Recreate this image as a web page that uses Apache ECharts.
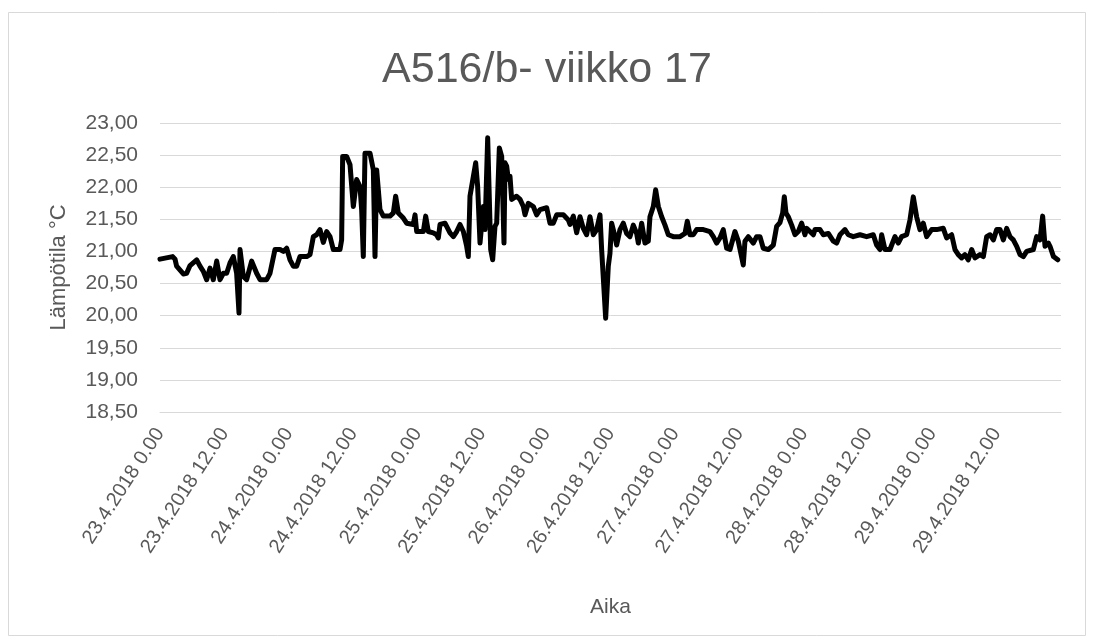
<!DOCTYPE html>
<html>
<head>
<meta charset="utf-8">
<title>A516/b- viikko 17</title>
<script src="https://cdn.jsdelivr.net/npm/echarts@6/dist/echarts.min.js"></script>
<style>
  html, body { margin: 0; padding: 0; background: #fff; }
  #chart { width: 1094px; height: 644px; }
</style>
</head>
<body>
<div id="chart"></div>
<script>
// x-akselin merkinnät, 12 tunnin välein alkaen 23.4.2018 0.00
const tickLabels = [
  "23.4.2018 0.00", "23.4.2018 12.00", "24.4.2018 0.00", "24.4.2018 12.00",
  "25.4.2018 0.00", "25.4.2018 12.00", "26.4.2018 0.00", "26.4.2018 12.00",
  "27.4.2018 0.00", "27.4.2018 12.00", "28.4.2018 0.00", "28.4.2018 12.00",
  "29.4.2018 0.00", "29.4.2018 12.00"
];

// mittausajat (tunteja 23.4.2018 0.00 jälkeen), luettu kuvasta
const hours = [
  0, 2.36, 2.8, 3.1, 4.35, 4.97, 5.6, 6.84, 7.46, 8.08, 8.7, 9.32, 9.94, 10.57,
  11.19, 11.81, 12.43, 13.05, 13.67, 14.29, 14.73, 14.92, 15.54, 16.16, 17.09,
  18.02, 18.65, 19.89, 20.51, 21.44, 22.37, 23.0, 23.62, 24.24, 24.86, 25.48,
  26.1, 27.35, 27.97, 28.59, 29.21, 29.83, 30.45, 31.08, 31.7, 32.32, 33.56,
  33.87, 34.06, 34.8, 35.43, 36.05, 36.67, 37.29, 37.6, 37.91, 38.22, 39.16,
  39.78, 40.09, 40.4, 41.02, 41.64, 42.88, 43.51, 43.94, 44.44, 45.37, 45.99,
  47.23, 47.55, 47.86, 49.1, 49.54, 50.03, 50.96, 51.58, 51.9, 52.21,
  53.14, 54.07, 54.7, 55.32, 55.94, 56.56, 57.18, 57.49, 57.8, 58.43, 58.86,
  59.23, 59.67, 60.29, 60.6, 61.1, 61.41, 61.66, 62.03, 62.46, 62.78, 63.27,
  63.71, 64.14, 64.33, 64.64, 64.95, 65.26, 65.57, 66.5, 67.13, 67.75, 68.06,
  68.68, 69.61, 70.23, 70.86, 72.1, 72.72, 73.34, 73.96, 75.21, 76.14, 76.45,
  77.07, 77.69,
  78.31, 78.93, 79.55, 80.17, 80.8, 81.42, 82.04, 82.35, 83.1, 83.59, 83.9,
  84.21, 84.84, 85.15, 85.77, 86.39, 87.01, 87.63, 88.25, 88.88, 89.19, 89.81,
  90.43, 91.05, 91.36, 91.98, 92.42, 92.92, 93.54, 94.16, 94.78, 95.71, 96.96,
  97.89, 98.32, 98.82, 99.44, 100.06, 101.31, 102.55, 103.17, 103.79, 104.41,
  105.03, 105.66, 106.28, 107.21, 107.83, 108.76, 109.07, 109.7, 110.63,
  111.25, 111.87, 112.49, 113.42, 114.36, 114.98, 115.6,
  116.1, 116.41, 116.72, 117.15, 117.78, 118.4, 119.02, 119.64, 120.26, 120.57,
  121.19, 121.82, 122.13, 123.06, 123.68, 124.61, 125.54, 126.17, 126.79,
  127.72, 128.34, 129.27, 130.52, 131.76, 133.0, 133.62, 134.25, 134.56,
  135.18, 136.11, 137.04, 137.66, 138.28, 139.22, 139.84, 140.46, 141.08,
  141.7, 142.32, 142.95, 143.88, 144.81, 146.05, 146.68, 147.61, 148.23,
  148.85, 149.47, 150.09, 150.71, 151.34, 151.96, 152.89,
  153.52, 154.14, 154.76, 155.39, 156.01, 156.63, 157.25, 157.87, 158.49,
  159.11, 159.74, 160.36, 160.98, 161.6, 162.84, 163.46, 164.09, 164.58,
  165.02, 165.64, 165.95, 166.6, 167.4
];

// lämpötilat (°C)
const temps = [
  20.88, 20.92, 20.88, 20.77, 20.65, 20.66, 20.78, 20.87, 20.77, 20.69, 20.56,
  20.74, 20.56, 20.85, 20.56, 20.66, 20.66, 20.82, 20.92, 20.66, 20.04, 21.03,
  20.61, 20.56, 20.85, 20.66, 20.56, 20.56, 20.66, 21.03, 21.03, 21.0, 21.05,
  20.87, 20.77, 20.77, 20.92, 20.92, 20.95, 21.23, 21.26, 21.34, 21.14, 21.31,
  21.23, 21.03, 21.03, 21.18, 22.48, 22.48, 22.35, 21.7, 22.12, 22.01, 21.65,
  20.92, 22.53, 22.53, 22.27, 20.92, 22.27, 21.65, 21.55, 21.55, 21.6, 21.86,
  21.6, 21.52, 21.44, 21.42, 21.57, 21.31, 21.31, 21.55, 21.31, 21.29, 21.26,
  21.21, 21.42,
  21.44, 21.29, 21.23, 21.31, 21.42, 21.31, 21.08, 20.92, 21.86, 22.17, 22.38,
  22.01, 21.13, 21.7, 21.34, 22.77, 22.77, 21.03, 20.87, 21.39, 21.44, 22.61,
  22.48, 21.13, 22.38, 22.33, 22.12, 22.17, 21.81, 21.86, 21.81, 21.7, 21.57,
  21.75, 21.7, 21.57, 21.65, 21.68, 21.44, 21.44, 21.57, 21.57, 21.49, 21.42,
  21.55, 21.29,
  21.54, 21.36, 21.26, 21.54, 21.26, 21.34, 21.57, 21.03, 19.96, 20.77, 20.97,
  21.44, 21.23, 21.1, 21.34, 21.44, 21.28, 21.23, 21.41, 21.28, 21.13, 21.44,
  21.13, 21.16, 21.54, 21.7, 21.96, 21.7, 21.54, 21.41, 21.26, 21.23, 21.23,
  21.28, 21.47, 21.26, 21.26, 21.34, 21.34, 21.31, 21.23, 21.13, 21.21,
  21.34, 21.05, 21.03, 21.31, 21.16, 20.79, 21.16, 21.23, 21.13,
  21.23, 21.23, 21.05, 21.03, 21.1, 21.39, 21.45,
  21.6, 21.85, 21.6, 21.54, 21.41, 21.26, 21.31, 21.44, 21.26, 21.36,
  21.31, 21.26, 21.34, 21.34, 21.26, 21.28, 21.16, 21.13, 21.26,
  21.34, 21.26, 21.23, 21.26, 21.23, 21.26, 21.1, 21.03, 21.26,
  21.03, 21.03, 21.23, 21.13, 21.23, 21.26, 21.49, 21.85, 21.54,
  21.34, 21.44, 21.23, 21.34, 21.34, 21.36, 21.21, 21.26, 21.03,
  20.95, 20.9, 20.95, 20.87, 21.03, 20.9, 20.95,
  20.92, 21.23, 21.26, 21.18, 21.34, 21.34, 21.18, 21.36, 21.23,
  21.18, 21.08, 20.95, 20.92, 21.0, 21.03, 21.23, 21.18, 21.55,
  21.08, 21.13, 21.08, 20.92, 20.87
];

// y-akselin rajat
const yMin = 18.5;
const yMax = 23;
const yStep = 0.5;

const textColor = "#595959";
const gridColor = "#d9d9d9";
const fontFamily = "'Liberation Sans', Arial, sans-serif";

const chart = echarts.init(document.getElementById("chart"));

chart.setOption({
  animation: false,
  backgroundColor: "#ffffff",
  textStyle: { fontFamily: fontFamily },
  // kaavion reunus
  graphic: [
    {
      type: "rect",
      shape: { x: 8.5, y: 12.5, width: 1077, height: 623 },
      style: { fill: "none", stroke: gridColor, lineWidth: 1 },
      silent: true,
    },
  ],
  title: {
    text: "A516/b- viikko 17",
    left: "center",
    top: 44,
    textStyle: {
      color: textColor,
      fontSize: 43,
      fontWeight: "normal",
      fontFamily: fontFamily,
    },
  },
  grid: {
    left: 160,
    right: 33,
    top: 123,
    bottom: 232,
  },
  xAxis: {
    type: "value",
    min: 0,
    max: 168,
    interval: 12,
    name: "Aika",
    nameLocation: "middle",
    nameGap: 185,
    nameTextStyle: { color: textColor, fontSize: 21 },
    axisLine: { show: true, lineStyle: { color: gridColor, width: 1 } },
    axisTick: { show: false },
    splitLine: { show: false },
    axisLabel: {
      color: textColor,
      fontSize: 20,
      rotate: 57,
      margin: 18,
      showMaxLabel: false,
      formatter: (v) => tickLabels[Math.round(v / 12)] || "",
    },
  },
  yAxis: {
    type: "value",
    min: yMin,
    max: yMax,
    interval: yStep,
    name: "Lämpötila °C",
    nameLocation: "middle",
    nameGap: 90,
    nameTextStyle: { color: textColor, fontSize: 22 },
    axisLine: { show: false },
    axisTick: { show: false },
    splitLine: { lineStyle: { color: gridColor, width: 1 } },
    axisLabel: {
      color: textColor,
      fontSize: 21,
      margin: 22,
      formatter: (v) => v.toFixed(2).replace(".", ","),
    },
  },
  series: [
    {
      name: "A516/b",
      type: "line",
      showSymbol: false,
      symbol: "none",
      data: hours.map((h, i) => [h, temps[i]]),
      lineStyle: {
        color: "#000000",
        width: 5,
        join: "round",
        cap: "round",
      },
    },
  ],
});
</script>
</body>
</html>
